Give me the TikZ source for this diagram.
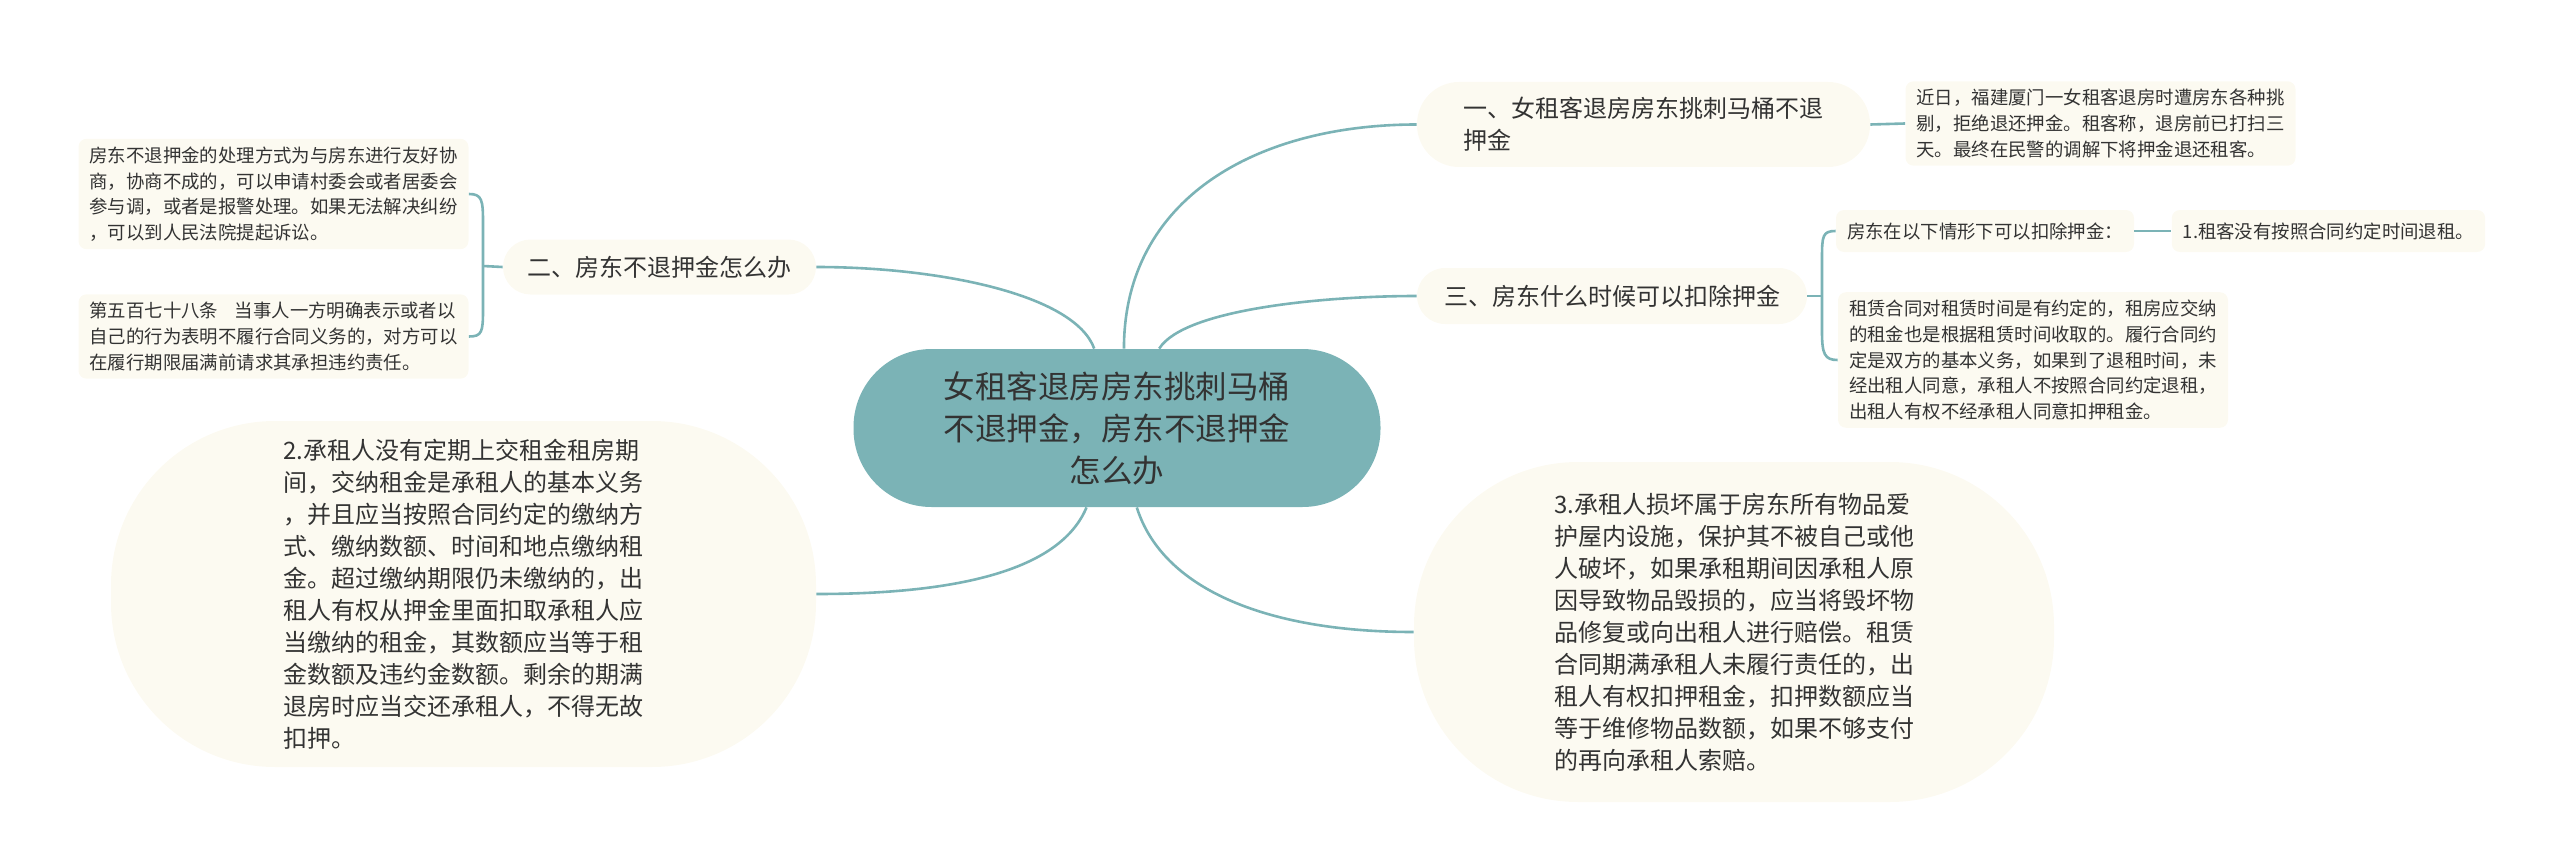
\documentclass[tikz,border=0pt]{standalone}
\usepackage{fontspec}
\setmainfont{Noto Sans CJK SC}
\usepackage{tikz}
\usetikzlibrary{positioning}
\definecolor{tealc}{RGB}{123,179,182}
\definecolor{cream}{RGB}{252,250,241}
\definecolor{ink}{RGB}{51,51,51}

\begin{document}
\begin{tikzpicture}[x=0.5pt,y=-0.5pt,
    link/.style={draw=tealc,line width=1.3pt},
    root/.style={fill=tealc,text=ink,rounded corners=39pt,minimum width=263.5pt,minimum height=79pt,align=center,font=\fontsize{15.75pt}{21pt}\selectfont},
    topic/.style={fill=cream,text=ink,align=left,font=\fontsize{12pt}{16pt}\selectfont},
    leaf/.style={fill=cream,text=ink,rounded corners=4pt,align=left,inner xsep=5.5pt,inner ysep=4pt,font=\fontsize{9.2pt}{12.8pt}\selectfont}]
  \useasboundingbox (0,0) rectangle (2560,856);
  \node[root] (c) at (1117,428) {女租客退房房东挑刺马桶\\不退押金，房东不退押金\\怎么办};
  \node[topic,rounded corners=21pt,minimum width=226.5pt,minimum height=42.5pt] (t1) at (1643.5,124.5) {一、女租客退房房东挑刺马桶不退\\押金};
  \node[leaf,minimum width=193.5pt] (l1) at (2100.5,123.5) {近日，福建厦门一女租客退房时遭房东各种挑\\剔，拒绝退还押金。租客称，退房前已打扫三\\天。最终在民警的调解下将押金退还租客。};
  \node[topic,rounded corners=14pt,minimum width=195pt,minimum height=28pt] (t3) at (1612,296) {三、房东什么时候可以扣除押金};
  \node[leaf,minimum height=21pt] (t3a) at (1985,231) {房东在以下情形下可以扣除押金：};
  \node[leaf,minimum height=21pt,right=18.5pt of t3a] (t3a1) {1.租客没有按照合同约定时间退租。};
  \node[leaf] (t3b) at (2033,360) {租赁合同对租赁时间是有约定的，租房应交纳\\的租金也是根据租赁时间收取的。履行合同约\\定是双方的基本义务，如果到了退租时间，未\\经出租人同意，承租人不按照合同约定退租，\\出租人有权不经承租人同意扣押租金。};
  \node[topic,rounded corners=13.75pt,minimum width=156.5pt,minimum height=27.5pt] (t2) at (659.5,267) {二、房东不退押金怎么办};
  \node[leaf,minimum width=193.5pt] (l2a) at (273.5,194) {房东不退押金的处理方式为与房东进行友好协\\商，协商不成的，可以申请村委会或者居委会\\参与调，或者是报警处理。如果无法解决纠纷\\，可以到人民法院提起诉讼。};
  \node[leaf,minimum width=193.5pt] (l2b) at (273.5,336.5) {第五百七十八条\hspace{0.9em}当事人一方明确表示或者以\\自己的行为表明不履行合同义务的，对方可以\\在履行期限届满前请求其承担违约责任。};
  \node[topic,rounded corners=82pt,minimum width=352.5pt,minimum height=173pt] (n2) at (463.5,594) {2.承租人没有定期上交租金租房期\\间，交纳租金是承租人的基本义务\\，并且应当按照合同约定的缴纳方\\式、缴纳数额、时间和地点缴纳租\\金。超过缴纳期限仍未缴纳的，出\\租人有权从押金里面扣取承租人应\\当缴纳的租金，其数额应当等于租\\金数额及违约金数额。剩余的期满\\退房时应当交还承租人，不得无故\\扣押。};
  \node[topic,rounded corners=82pt,minimum width=320pt,minimum height=170pt] (n3) at (1734,632) {3.承租人损坏属于房东所有物品爱\\护屋内设施，保护其不被自己或他\\人破坏，如果承租期间因承租人原\\因导致物品毁损的，应当将毁坏物\\品修复或向出租人进行赔偿。租赁\\合同期满承租人未履行责任的，出\\租人有权扣押租金，扣押数额应当\\等于维修物品数额，如果不够支付\\的再向承租人索赔。};
  \coordinate (s2) at (483,266);
  \coordinate (s3) at (1822,296);
  \draw[link] (c.85) .. controls +(0,-150) and +(-160,0) .. (t1.west);
  \draw[link] (c.62) .. controls +(25,-40) and +(-90,0) .. (t3.west);
  \draw[link] (c.106) .. controls +(-20,-55) and +(120,0) .. (t2.east);
  \draw[link] (c.249) .. controls +(-25,60) and +(150,0) .. (n2.east);
  \draw[link] (c.284) .. controls +(25,80) and +(-150,0) .. (n3.west);
  \draw[link] (t1.east) -- (l1.west);
  \draw[link] (t3a.east) -- (t3a1.west);
  \draw[link] (t2.west) -- (s2);
  \draw[link] (l2a.east) .. controls +(13,0) and +(0,-22) .. (483,222) -- (483,310) .. controls +(0,22) and +(13,0) .. (l2b.east);
  \draw[link] (t3.east) -- (s3);
  \draw[link] (t3a.west) .. controls +(-13,0) and +(0,-22) .. (1822,258) -- (1822,332) .. controls +(0,22) and +(-13,0) .. (t3b.west);
\end{tikzpicture}
\end{document}
